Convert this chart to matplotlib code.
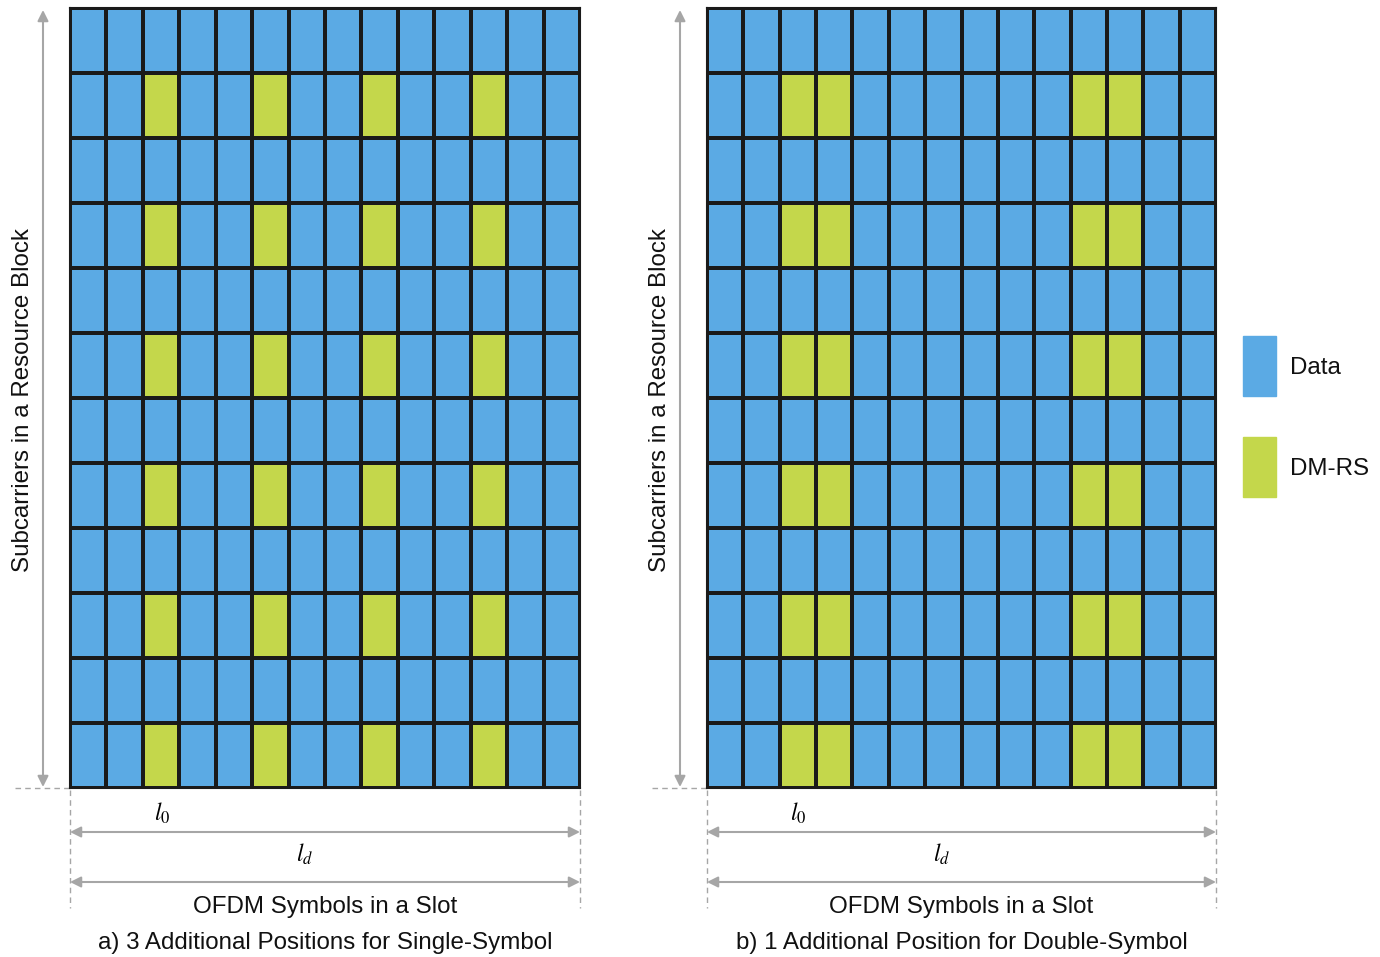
import matplotlib.pyplot as plt
import numpy as np
from matplotlib.colors import ListedColormap

plt.rcParams['font.family'] = ['Liberation Sans', 'DejaVu Sans']
plt.rcParams['mathtext.fontset'] = 'stix'

# --- data ---
n_symbols = 14
n_subcarriers = 12
dmrs_rows = [1, 3, 5, 7, 9, 11]          # counted from the top
left_dmrs_cols = [2, 5, 8, 11]
right_dmrs_cols = [2, 3, 10, 11]
legend_labels = ["Data", "DM-RS"]
captions = ["a) 3 Additional Positions for Single-Symbol",
            "b) 1 Additional Position for Double-Symbol"]

blue = "#5BAAE4"
green = "#C4D74B"
grey = "#A6A6A6"
txt = "#111111"

W, H = 1380, 957
fig = plt.figure(figsize=(W / 100, H / 100), dpi=100)

# overlay axes in pixel coords (y down)
ov = fig.add_axes([0, 0, 1, 1])
ov.set_xlim(0, W)
ov.set_ylim(H, 0)
ov.axis("off")


def grid_axes(x0, x1, y0, y1):
    return fig.add_axes([x0 / W, 1 - y1 / H, (x1 - x0) / W, (y1 - y0) / H])


def make_grid(cols):
    m = np.zeros((n_subcarriers, n_symbols))
    for r in dmrs_rows:
        for c in cols:
            m[r, c] = 1
    return m


panels = [(70, 580, left_dmrs_cols, 162, captions[0]),
          (707, 1216, right_dmrs_cols, 798, captions[1])]

for x0, x1, cols, l0x, cap in panels:
    ax = grid_axes(x0, x1, 8, 788)
    ax.pcolormesh(make_grid(cols), cmap=ListedColormap([blue, green]),
                  edgecolors="#1a1a1a", linewidth=1.5, vmin=0, vmax=1)
    ax.set_xlim(0, n_symbols)
    ax.set_ylim(n_subcarriers, 0)
    ax.set_xticks([])
    ax.set_yticks([])
    for s in ax.spines.values():
        s.set_color("#1a1a1a")
        s.set_linewidth(1.5)

    # vertical arrow + dashed baseline
    ax_x = x0 - 27
    ov.annotate("", xy=(ax_x, 10), xytext=(ax_x, 787),
                arrowprops=dict(arrowstyle="<|-|>", color=grey, lw=1.5,
                                mutation_scale=16, shrinkA=0, shrinkB=0))
    ov.plot([x0 - 55, x0], [788, 788], ls=(0, (4, 3)), color=grey, lw=1)
    ov.text(x0 - 47, 400, "Subcarriers in a Resource Block", rotation=90,
            ha="center", va="center", fontsize=17.4, color=txt)

    # dashed verticals
    for xx in (x0, x1):
        ov.plot([xx, xx], [790, 908], ls=(0, (4, 3)), color=grey, lw=1)

    # horizontal arrows
    for yy in (832, 882):
        ov.annotate("", xy=(x1, yy), xytext=(x0, yy),
                    arrowprops=dict(arrowstyle="<|-|>", color=grey, lw=1.5,
                                    mutation_scale=16, shrinkA=0, shrinkB=0))
    ov.text(l0x, 813, "$l_0$", ha="center", va="center", fontsize=17)
    ov.text((x0 + x1) / 2 - 20, 854, "$l_d$", ha="center", va="center", fontsize=17)
    ov.text((x0 + x1) / 2, 907, "OFDM Symbols in a Slot", ha="center",
            va="center", fontsize=17.4, color=txt)
    ov.text((x0 + x1) / 2, 943, cap, ha="center", va="center",
            fontsize=17.4, color=txt)

# legend
for i, (lab, col) in enumerate(zip(legend_labels, [blue, green])):
    top = 336 + i * 101
    ov.add_patch(plt.Rectangle((1243, top), 33, 60, color=col))
    ov.text(1290, top + 32, lab, ha="left", va="center", fontsize=17.4,
            color=txt)

fig.savefig("out.png", dpi=100)
